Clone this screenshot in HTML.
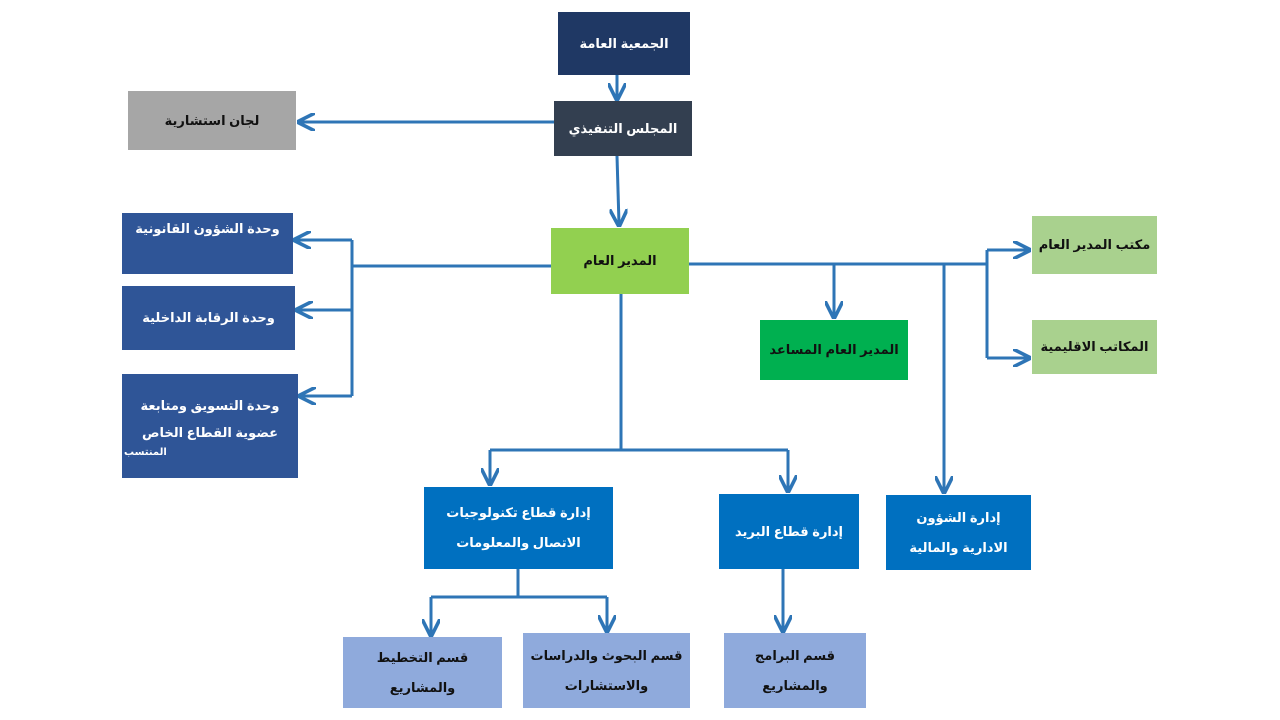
<!DOCTYPE html>
<html><head><meta charset="utf-8"><style>
body{margin:0;width:1280px;height:720px;background:#fff;position:relative;overflow:hidden;font-family:"Liberation Sans","DejaVu Sans",sans-serif;}
.b{position:absolute;display:flex;align-items:center;justify-content:center;text-align:center;font-weight:bold;font-size:13px;line-height:26px;direction:rtl;color:#fff;box-sizing:border-box;padding:0 2px;white-space:nowrap}
.d{color:#111}
svg{position:absolute;left:0;top:0}
</style></head><body>
<div class="b" style="left:558px;top:12px;width:132px;height:63px;background:#1f3864">الجمعية العامة</div>
<div class="b" style="left:554px;top:101px;width:138px;height:55px;background:#333f50">المجلس التنفيذي</div>
<div class="b d" style="left:128px;top:91px;width:168px;height:59px;background:#a6a6a6">لجان استشارية</div>
<div class="b d" style="left:551px;top:228px;width:138px;height:66px;background:#92d050">المدير العام</div>
<div class="b" style="left:122px;top:213px;width:171px;height:61px;background:#2f5597;align-items:flex-start;padding-top:3px">وحدة الشؤون القانونية</div>
<div class="b" style="left:122px;top:286px;width:173px;height:64px;background:#2f5597">وحدة الرقابة الداخلية</div>
<div class="b" style="left:122px;top:374px;width:176px;height:104px;background:#2f5597;flex-direction:column;line-height:27px"><div>وحدة التسويق ومتابعة<br>عضوية القطاع الخاص</div><div style="font-size:10px;line-height:14px;align-self:flex-end;margin-right:60px">المنتسب</div></div>
<div class="b" style="left:760px;top:320px;width:148px;height:60px;background:#00b050;color:#111">المدير العام المساعد</div>
<div class="b d" style="left:1032px;top:216px;width:125px;height:58px;background:#a9d18e">مكتب المدير العام</div>
<div class="b d" style="left:1032px;top:320px;width:125px;height:54px;background:#a9d18e">المكاتب الاقليمية</div>
<div class="b" style="left:424px;top:487px;width:189px;height:82px;background:#0070c0;line-height:30px">إدارة قطاع تكنولوجيات<br>الاتصال والمعلومات</div>
<div class="b" style="left:719px;top:494px;width:140px;height:75px;background:#0070c0">إدارة قطاع البريد</div>
<div class="b" style="left:886px;top:495px;width:145px;height:75px;background:#0070c0;line-height:30px">إدارة الشؤون<br>الادارية والمالية</div>
<div class="b d" style="left:343px;top:637px;width:159px;height:71px;background:#8faadc;line-height:30px">قسم التخطيط<br>والمشاريع</div>
<div class="b d" style="left:523px;top:633px;width:167px;height:75px;background:#8faadc;line-height:30px">قسم البحوث والدراسات<br>والاستشارات</div>
<div class="b d" style="left:724px;top:633px;width:142px;height:75px;background:#8faadc;line-height:30px">قسم البرامج<br>والمشاريع</div>
<svg width="1280" height="720"><defs><marker id="a" markerWidth="6" markerHeight="6" refX="5" refY="3" orient="auto" markerUnits="strokeWidth"><path d="M0,0L6,3L0,6" fill="none" stroke="#2e75b6" stroke-width="1.2"/></marker></defs>
<g stroke="#2e75b6" stroke-width="3" fill="none">
<path d="M617 75V98" marker-end="url(#a)"/>
<path d="M554 122H300" marker-end="url(#a)"/>
<path d="M617 156L619 224" marker-end="url(#a)"/>
<path d="M551 266H352M352 240V396"/>
<path d="M352 240H296" marker-end="url(#a)"/>
<path d="M352 310H298" marker-end="url(#a)"/>
<path d="M352 396H301" marker-end="url(#a)"/>
<path d="M689 264H987M987 250V358"/>
<path d="M834 264V316" marker-end="url(#a)"/>
<path d="M944 264V491" marker-end="url(#a)"/>
<path d="M987 250H1028" marker-end="url(#a)"/>
<path d="M987 358H1028" marker-end="url(#a)"/>
<path d="M621 294V450M490 450H788"/>
<path d="M490 450V483" marker-end="url(#a)"/>
<path d="M788 450V490" marker-end="url(#a)"/>
<path d="M518 569V597M431 597H607"/>
<path d="M431 597V634" marker-end="url(#a)"/>
<path d="M607 597V630" marker-end="url(#a)"/>
<path d="M783 569V630" marker-end="url(#a)"/>
</g></svg>
</body></html>
